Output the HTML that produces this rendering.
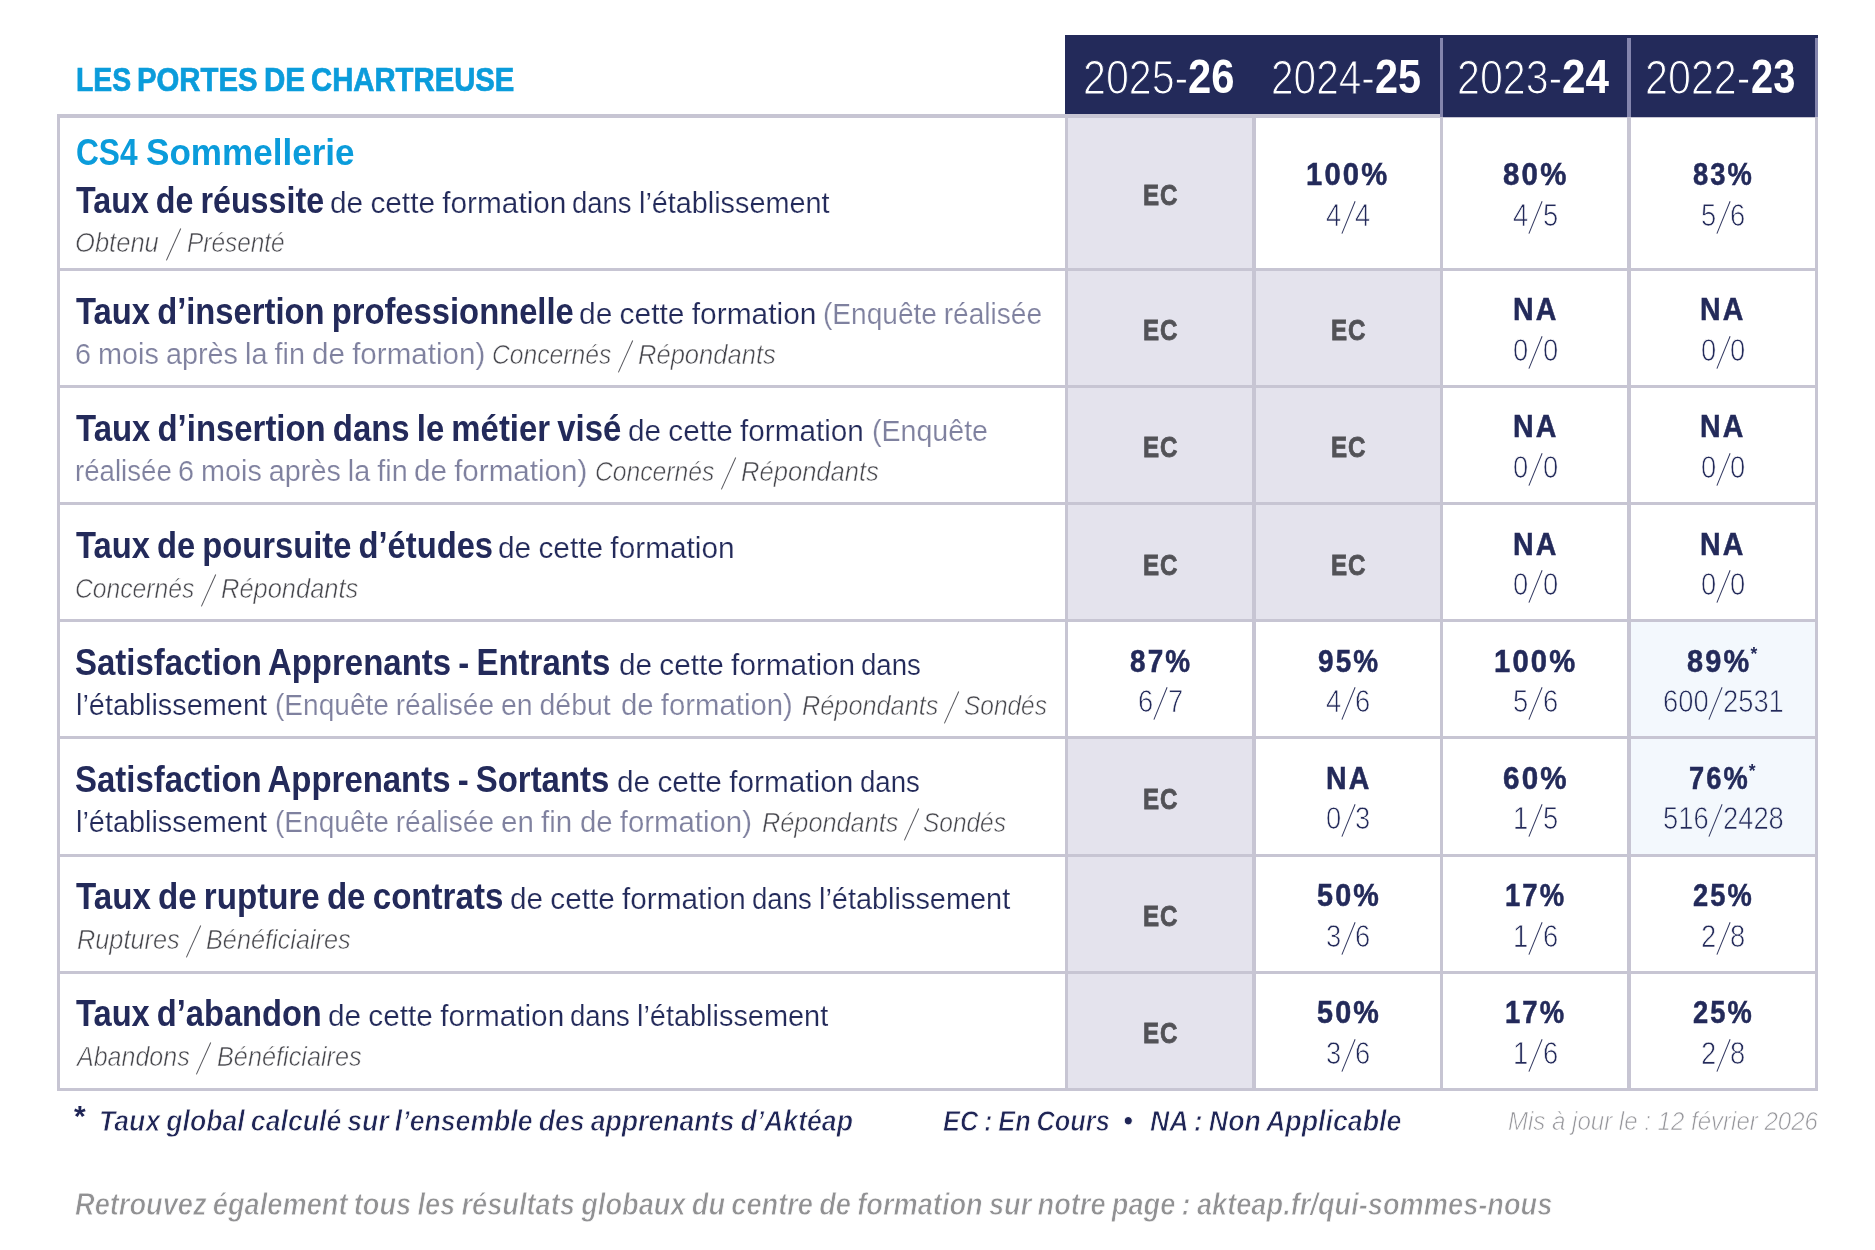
<!DOCTYPE html>
<html lang="fr"><head><meta charset="utf-8"><title>Les Portes de Chartreuse - CS4 Sommellerie</title>
<style>
html,body{margin:0;padding:0;background:#fff}
body{width:1875px;height:1250px;position:relative;overflow:hidden;font-family:"Liberation Sans",sans-serif}
#page{position:absolute;left:0;top:0;width:1875px;height:1250px;background:#fff;will-change:transform}
.t{position:absolute;white-space:pre;line-height:1;transform-origin:0 0;display:block}
.bx{position:absolute}
.h{color:transparent;-webkit-text-stroke:0 transparent}
.sl2{position:absolute;width:1.3px;height:35.3px;background:#55555b;transform:rotate(24.2deg);transform-origin:50% 50%}
.sl{position:absolute;width:1.45px;height:35px;background:#30365f;transform:rotate(22.2deg);transform-origin:50% 50%}

.title{font-weight:bold;font-style:normal;font-size:33.5px;color:#0b9cdb;-webkit-text-stroke:0.7px #0b9cdb;}
.cs4{font-weight:bold;font-style:normal;font-size:36px;color:#0b9cdb;word-spacing:-2.0px;}
.B{font-weight:bold;font-style:normal;font-size:36px;color:#232a5a;word-spacing:-2.2px;}
.R{font-weight:normal;font-style:normal;font-size:30px;color:#232a5a;-webkit-text-stroke:0.2px #fff;word-spacing:-1.0px;}
.G{font-weight:normal;font-style:normal;font-size:30px;color:#7f819f;-webkit-text-stroke:0.2px #fff;word-spacing:-1.0px;}
.I{font-weight:normal;font-style:italic;font-size:28.5px;color:#47474d;-webkit-text-stroke:0.6px #fff;}
.EC{font-weight:bold;font-style:normal;font-size:29.5px;color:#525257;-webkit-text-stroke:0.8px #525257;letter-spacing:1.0px;}
.V{font-weight:bold;font-style:normal;font-size:30.5px;color:#232a5a;-webkit-text-stroke:0.5px #232a5a;letter-spacing:2.3px;}
.F{font-weight:normal;font-style:normal;font-size:31px;color:#232a5a;-webkit-text-stroke:0.75px #fff;}
.FB{font-weight:normal;font-style:normal;font-size:31px;color:#232a5a;-webkit-text-stroke:0.75px #f3f8fd;}
.ast{font-weight:bold;font-style:normal;font-size:17.5px;color:#232a5a;}
.HL{font-weight:normal;font-style:normal;font-size:49px;color:#fff;-webkit-text-stroke:1.2px #232a5a;}
.HB{font-weight:bold;font-style:normal;font-size:48px;color:#fff;}
.FN{font-weight:bold;font-style:italic;font-size:30px;color:#1f2556;-webkit-text-stroke:0.85px #fff;word-spacing:-1.5px;}
.FNA{font-weight:bold;font-style:normal;font-size:30px;color:#1f2556;}
.FN2{font-weight:bold;font-style:italic;font-size:30.5px;color:#919193;-webkit-text-stroke:0.85px #fff;word-spacing:-1.5px;}
.MAJ{font-weight:normal;font-style:italic;font-size:26px;color:#96969b;-webkit-text-stroke:0.7px #fff;}
</style></head><body><div id="page">
<div class="bx" style="left:1066.5px;top:116.0px;width:187.5px;height:153.5px;background:#e4e3ed;"></div>
<div class="bx" style="left:1066.5px;top:269.4px;width:187.5px;height:116.9px;background:#e4e3ed;"></div>
<div class="bx" style="left:1254.0px;top:269.4px;width:187.5px;height:116.9px;background:#e4e3ed;"></div>
<div class="bx" style="left:1066.5px;top:386.4px;width:187.5px;height:117.1px;background:#e4e3ed;"></div>
<div class="bx" style="left:1254.0px;top:386.4px;width:187.5px;height:117.1px;background:#e4e3ed;"></div>
<div class="bx" style="left:1066.5px;top:503.5px;width:187.5px;height:117.1px;background:#e4e3ed;"></div>
<div class="bx" style="left:1254.0px;top:503.5px;width:187.5px;height:117.1px;background:#e4e3ed;"></div>
<div class="bx" style="left:1066.5px;top:737.8px;width:187.5px;height:117.2px;background:#e4e3ed;"></div>
<div class="bx" style="left:1066.5px;top:855.0px;width:187.5px;height:117.2px;background:#e4e3ed;"></div>
<div class="bx" style="left:1066.5px;top:972.2px;width:187.5px;height:117.2px;background:#e4e3ed;"></div>
<div class="bx" style="left:1629.1px;top:620.6px;width:187.5px;height:117.2px;background:#f3f8fd;"></div>
<div class="bx" style="left:1629.1px;top:737.8px;width:187.5px;height:117.2px;background:#f3f8fd;"></div>
<div class="bx" style="left:56.5px;top:114.2px;width:1761.8px;height:3.4px;background:#c7c5d3;"></div>
<div class="bx" style="left:56.5px;top:267.9px;width:1761.8px;height:3.0px;background:#c7c5d3;"></div>
<div class="bx" style="left:56.5px;top:384.9px;width:1761.8px;height:3.0px;background:#c7c5d3;"></div>
<div class="bx" style="left:56.5px;top:502.0px;width:1761.8px;height:3.0px;background:#c7c5d3;"></div>
<div class="bx" style="left:56.5px;top:619.1px;width:1761.8px;height:3.0px;background:#c7c5d3;"></div>
<div class="bx" style="left:56.5px;top:736.3px;width:1761.8px;height:3.0px;background:#c7c5d3;"></div>
<div class="bx" style="left:56.5px;top:853.5px;width:1761.8px;height:3.0px;background:#c7c5d3;"></div>
<div class="bx" style="left:56.5px;top:970.7px;width:1761.8px;height:3.0px;background:#c7c5d3;"></div>
<div class="bx" style="left:56.5px;top:1087.7px;width:1761.8px;height:3.4px;background:#c7c5d3;"></div>
<div class="bx" style="left:56.5px;top:114.2px;width:3.4px;height:976.9px;background:#c7c5d3;"></div>
<div class="bx" style="left:1064.8px;top:114.2px;width:3.4px;height:976.9px;background:#c7c5d3;"></div>
<div class="bx" style="left:1252.3px;top:114.2px;width:3.4px;height:976.9px;background:#c7c5d3;"></div>
<div class="bx" style="left:1439.9px;top:114.2px;width:3.4px;height:976.9px;background:#c7c5d3;"></div>
<div class="bx" style="left:1627.4px;top:114.2px;width:3.4px;height:976.9px;background:#c7c5d3;"></div>
<div class="bx" style="left:1814.9px;top:114.2px;width:3.4px;height:976.9px;background:#c7c5d3;"></div>
<div class="bx" style="left:1065.0px;top:34.6px;width:376.5px;height:79.6px;background:#232a5a;"></div>
<div class="bx" style="left:1441.5px;top:34.6px;width:376.3px;height:82.3px;background:#232a5a;"></div>
<div class="bx" style="left:1439.9px;top:38.0px;width:3.4px;height:78.9px;background:#8485ad;"></div>
<div class="bx" style="left:1627.4px;top:38.0px;width:3.4px;height:78.9px;background:#8485ad;"></div>
<div class="bx" style="left:1814.9px;top:38.0px;width:3.4px;height:78.9px;background:#8485ad;"></div>
<span class="t title" style="left:75.53px;top:63px;transform:scaleX(0.8476)">LES</span>
<span class="t title" style="left:136.57px;top:63px;transform:scaleX(0.8748)">PORTES</span>
<span class="t title" style="left:263.85px;top:63px;transform:scaleX(0.8815)">DE</span>
<span class="t title" style="left:311.48px;top:63px;transform:scaleX(0.8742)">CHARTREUSE</span>
<span class="t cs4" style="left:76.01px;top:135px;transform:scaleX(0.8794)">CS4</span>
<span class="t cs4" style="left:146.25px;top:135px;transform:scaleX(0.9744)">Sommellerie</span>
<span class="t B" style="left:75.50px;top:183px;transform:scaleX(0.8955)">Taux de réussite</span>
<span class="t R" style="left:329.57px;top:188px;transform:scaleX(0.9927)">de cette formation</span>
<span class="t R" style="left:572.04px;top:188px;transform:scaleX(0.9164)">dans</span>
<span class="t R" style="left:639.10px;top:188px;transform:scaleX(0.9595)">l’établissement</span>
<span class="t I" style="left:75.40px;top:228px;transform:scaleX(0.8967)">Obtenu <span class="h">/</span></span>
<span class="t I" style="left:187.32px;top:228px;transform:scaleX(0.8564)">Présenté</span>
<span class="t B" style="left:75.50px;top:294px;transform:scaleX(0.9100)">Taux d’insertion professionnelle</span>
<span class="t R" style="left:578.77px;top:299px;transform:scaleX(0.9970)">de cette formation</span>
<span class="t G" style="left:823.28px;top:299px;transform:scaleX(0.9355)">(Enquête réalisée</span>
<span class="t G" style="left:75.05px;top:339px;transform:scaleX(0.9604)">6 mois après la fin</span>
<span class="t G" style="left:311.68px;top:339px;transform:scaleX(0.9858)">de formation)</span>
<span class="t I" style="left:492.34px;top:340px;transform:scaleX(0.8659)">Concernés <span class="h">/</span></span>
<span class="t I" style="left:638.20px;top:340px;transform:scaleX(0.8965)">Répondants</span>
<span class="t B" style="left:75.50px;top:411px;transform:scaleX(0.9141)">Taux d’insertion dans le métier visé</span>
<span class="t R" style="left:628.37px;top:416px;transform:scaleX(0.9906)">de cette formation</span>
<span class="t G" style="left:872.16px;top:416px;transform:scaleX(0.9527)">(Enquête</span>
<span class="t G" style="left:74.67px;top:456px;transform:scaleX(0.9209)">réalisée</span>
<span class="t G" style="left:178.15px;top:456px;transform:scaleX(0.9592)">6 mois après la fin</span>
<span class="t G" style="left:414.48px;top:456px;transform:scaleX(0.9864)">de formation)</span>
<span class="t I" style="left:595.04px;top:457px;transform:scaleX(0.8659)">Concernés <span class="h">/</span></span>
<span class="t I" style="left:740.90px;top:457px;transform:scaleX(0.8972)">Répondants</span>
<span class="t B" style="left:75.50px;top:528px;transform:scaleX(0.9090)">Taux de poursuite d’études</span>
<span class="t R" style="left:498.27px;top:533px;transform:scaleX(0.9936)">de cette formation</span>
<span class="t I" style="left:75.04px;top:574px;transform:scaleX(0.8659)">Concernés <span class="h">/</span></span>
<span class="t I" style="left:220.90px;top:574px;transform:scaleX(0.8933)">Répondants</span>
<span class="t B" style="left:75.48px;top:645px;transform:scaleX(0.9163)">Satisfaction Apprenants - Entrants</span>
<span class="t R" style="left:619.07px;top:650px;transform:scaleX(0.9915)">de cette formation</span>
<span class="t R" style="left:861.14px;top:650px;transform:scaleX(0.9212)">dans</span>
<span class="t R" style="left:75.70px;top:690px;transform:scaleX(0.9626)">l’établissement</span>
<span class="t G" style="left:275.38px;top:690px;transform:scaleX(0.9355)">(Enquête réalisée</span>
<span class="t G" style="left:501.01px;top:690px;transform:scaleX(0.9474)">en début</span>
<span class="t G" style="left:620.58px;top:690px;transform:scaleX(0.9777)">de formation)</span>
<span class="t I" style="left:802.30px;top:691px;transform:scaleX(0.8874)">Répondants <span class="h">/</span></span>
<span class="t I" style="left:963.82px;top:691px;transform:scaleX(0.8573)">Sondés</span>
<span class="t B" style="left:75.49px;top:762px;transform:scaleX(0.9147)">Satisfaction Apprenants - Sortants</span>
<span class="t R" style="left:617.37px;top:767px;transform:scaleX(0.9923)">de cette formation</span>
<span class="t R" style="left:859.94px;top:767px;transform:scaleX(0.9212)">dans</span>
<span class="t R" style="left:75.70px;top:807px;transform:scaleX(0.9626)">l’établissement</span>
<span class="t G" style="left:275.38px;top:807px;transform:scaleX(0.9355)">(Enquête réalisée</span>
<span class="t G" style="left:500.98px;top:807px;transform:scaleX(0.9833)">en fin</span>
<span class="t G" style="left:580.18px;top:807px;transform:scaleX(0.9783)">de formation)</span>
<span class="t I" style="left:761.80px;top:808px;transform:scaleX(0.8874)">Répondants <span class="h">/</span></span>
<span class="t I" style="left:923.32px;top:808px;transform:scaleX(0.8573)">Sondés</span>
<span class="t B" style="left:75.50px;top:879px;transform:scaleX(0.9198)">Taux de rupture de contrats</span>
<span class="t R" style="left:509.77px;top:884px;transform:scaleX(0.9902)">de cette formation</span>
<span class="t R" style="left:751.74px;top:884px;transform:scaleX(0.9196)">dans</span>
<span class="t R" style="left:818.99px;top:884px;transform:scaleX(0.9636)">l’établissement</span>
<span class="t I" style="left:76.60px;top:925px;transform:scaleX(0.8880)">Ruptures <span class="h">/</span></span>
<span class="t I" style="left:206.11px;top:925px;transform:scaleX(0.8868)">Bénéficiaires</span>
<span class="t B" style="left:75.50px;top:996px;transform:scaleX(0.9065)">Taux d’abandon</span>
<span class="t R" style="left:328.07px;top:1001px;transform:scaleX(0.9919)">de cette formation</span>
<span class="t R" style="left:570.14px;top:1001px;transform:scaleX(0.9180)">dans</span>
<span class="t R" style="left:637.29px;top:1001px;transform:scaleX(0.9636)">l’établissement</span>
<span class="t I" style="left:77.16px;top:1042px;transform:scaleX(0.8782)">Abandons <span class="h">/</span></span>
<span class="t I" style="left:216.71px;top:1042px;transform:scaleX(0.8868)">Bénéficiaires</span>
<span class="t FNA" style="left:74.40px;top:1101px;transform:scaleX(0.9984)">*</span>
<span class="t FN" style="left:98.63px;top:1106px;transform:scaleX(0.8884)">Taux global calculé sur l’ensemble des apprenants d’Aktéap</span>
<span class="t FN" style="left:942.80px;top:1106px;transform:scaleX(0.8461)">EC : En Cours</span>
<span class="t FN" style="left:1122.72px;top:1106px;transform:scaleX(0.9387)">•</span>
<span class="t FN" style="left:1150.18px;top:1106px;transform:scaleX(0.8927)">NA : Non Applicable</span>
<span class="t MAJ" style="left:1507.72px;top:1108px;transform:scaleX(0.9244)">Mis à jour le : 12 février 2026</span>
<span class="t FN2" style="left:74.87px;top:1189px;transform:scaleX(0.8926)">Retrouvez également tous les résultats globaux du centre de formation sur notre page : akteap.fr/qui-sommes-nous</span>
<span class="t HL" style="left:1082.87px;top:53px;transform:scaleX(0.8404)">2025-</span>
<span class="t HB" style="left:1187.70px;top:53px;transform:scaleX(0.8699)">26</span>
<span class="t HL" style="left:1271.10px;top:53px;transform:scaleX(0.8288)">2024-</span>
<span class="t HB" style="left:1374.71px;top:53px;transform:scaleX(0.8620)">25</span>
<span class="t HL" style="left:1457.27px;top:53px;transform:scaleX(0.8395)">2023-</span>
<span class="t HB" style="left:1562.08px;top:53px;transform:scaleX(0.8794)">24</span>
<span class="t HL" style="left:1645.47px;top:53px;transform:scaleX(0.8420)">2022-</span>
<span class="t HB" style="left:1750.75px;top:53px;transform:scaleX(0.8305)">23</span>
<span class="t EC" style="left:1143.49px;top:180px;transform:scaleX(0.8187)">EC</span>
<span class="t V" style="left:1306.48px;top:159px;transform:scaleX(0.9568)">100%</span>
<span class="t V" style="left:1503.28px;top:159px;transform:scaleX(0.9648)">80%</span>
<span class="t V" style="left:1692.95px;top:159px;transform:scaleX(0.8964)">83%</span>
<span class="t EC" style="left:1143.49px;top:315px;transform:scaleX(0.8187)">EC</span>
<span class="t EC" style="left:1330.89px;top:315px;transform:scaleX(0.8187)">EC</span>
<span class="t V" style="left:1512.92px;top:294px;transform:scaleX(0.9347)">NA</span>
<span class="t V" style="left:1700.32px;top:294px;transform:scaleX(0.9347)">NA</span>
<span class="t EC" style="left:1143.49px;top:432px;transform:scaleX(0.8187)">EC</span>
<span class="t EC" style="left:1330.89px;top:432px;transform:scaleX(0.8187)">EC</span>
<span class="t V" style="left:1512.92px;top:411px;transform:scaleX(0.9347)">NA</span>
<span class="t V" style="left:1700.32px;top:411px;transform:scaleX(0.9347)">NA</span>
<span class="t EC" style="left:1143.49px;top:550px;transform:scaleX(0.8187)">EC</span>
<span class="t EC" style="left:1330.89px;top:550px;transform:scaleX(0.8187)">EC</span>
<span class="t V" style="left:1512.92px;top:529px;transform:scaleX(0.9347)">NA</span>
<span class="t V" style="left:1700.32px;top:529px;transform:scaleX(0.9347)">NA</span>
<span class="t V" style="left:1130.13px;top:646px;transform:scaleX(0.9150)">87%</span>
<span class="t V" style="left:1317.53px;top:646px;transform:scaleX(0.9150)">95%</span>
<span class="t V" style="left:1493.88px;top:646px;transform:scaleX(0.9568)">100%</span>
<span class="t V" style="left:1687.30px;top:646px;transform:scaleX(0.9462)">89%</span>
<span class="t ast" style="left:1750.40px;top:646px;transform:scaleX(1.0000)">*</span>
<span class="t EC" style="left:1143.49px;top:784px;transform:scaleX(0.8187)">EC</span>
<span class="t V" style="left:1325.52px;top:763px;transform:scaleX(0.9347)">NA</span>
<span class="t V" style="left:1503.13px;top:763px;transform:scaleX(0.9695)">60%</span>
<span class="t V" style="left:1689.05px;top:763px;transform:scaleX(0.8933)">76%</span>
<span class="t ast" style="left:1748.70px;top:763px;transform:scaleX(1.0000)">*</span>
<span class="t EC" style="left:1143.49px;top:901px;transform:scaleX(0.8187)">EC</span>
<span class="t V" style="left:1316.85px;top:880px;transform:scaleX(0.9423)">50%</span>
<span class="t V" style="left:1504.98px;top:880px;transform:scaleX(0.9004)">17%</span>
<span class="t V" style="left:1693.00px;top:880px;transform:scaleX(0.8948)">25%</span>
<span class="t EC" style="left:1143.49px;top:1018px;transform:scaleX(0.8187)">EC</span>
<span class="t V" style="left:1316.85px;top:997px;transform:scaleX(0.9423)">50%</span>
<span class="t V" style="left:1504.98px;top:997px;transform:scaleX(0.9004)">17%</span>
<span class="t V" style="left:1693.00px;top:997px;transform:scaleX(0.8948)">25%</span>
<i class="sl2" style="left:173.35px;top:226.55px"></i>
<i class="sl2" style="left:625.35px;top:338.55px"></i>
<i class="sl2" style="left:728.05px;top:455.55px"></i>
<i class="sl2" style="left:208.05px;top:572.55px"></i>
<i class="sl2" style="left:951.35px;top:689.55px"></i>
<i class="sl2" style="left:910.85px;top:806.55px"></i>
<i class="sl2" style="left:192.85px;top:923.55px"></i>
<i class="sl2" style="left:203.45px;top:1040.55px"></i>
<span class="t F" style="left:1325.80px;top:200px;transform:scaleX(0.8816)">4<span class="h">/</span></span>
<span class="t F" style="left:1355.40px;top:200px;transform:scaleX(0.8816)">4</span>
<i class="sl" style="left:1347.88px;top:200.10px"></i>
<span class="t F" style="left:1513.20px;top:200px;transform:scaleX(0.8816)">4<span class="h">/</span></span>
<span class="t F" style="left:1542.80px;top:200px;transform:scaleX(0.8816)">5</span>
<i class="sl" style="left:1535.28px;top:200.10px"></i>
<span class="t F" style="left:1700.60px;top:200px;transform:scaleX(0.8816)">5<span class="h">/</span></span>
<span class="t F" style="left:1730.20px;top:200px;transform:scaleX(0.8816)">6</span>
<i class="sl" style="left:1722.68px;top:200.10px"></i>
<span class="t F" style="left:1513.20px;top:335px;transform:scaleX(0.8816)">0<span class="h">/</span></span>
<span class="t F" style="left:1542.80px;top:335px;transform:scaleX(0.8816)">0</span>
<i class="sl" style="left:1535.28px;top:335.10px"></i>
<span class="t F" style="left:1700.60px;top:335px;transform:scaleX(0.8816)">0<span class="h">/</span></span>
<span class="t F" style="left:1730.20px;top:335px;transform:scaleX(0.8816)">0</span>
<i class="sl" style="left:1722.68px;top:335.10px"></i>
<span class="t F" style="left:1513.20px;top:452px;transform:scaleX(0.8816)">0<span class="h">/</span></span>
<span class="t F" style="left:1542.80px;top:452px;transform:scaleX(0.8816)">0</span>
<i class="sl" style="left:1535.28px;top:452.10px"></i>
<span class="t F" style="left:1700.60px;top:452px;transform:scaleX(0.8816)">0<span class="h">/</span></span>
<span class="t F" style="left:1730.20px;top:452px;transform:scaleX(0.8816)">0</span>
<i class="sl" style="left:1722.68px;top:452.10px"></i>
<span class="t F" style="left:1513.20px;top:569px;transform:scaleX(0.8816)">0<span class="h">/</span></span>
<span class="t F" style="left:1542.80px;top:569px;transform:scaleX(0.8816)">0</span>
<i class="sl" style="left:1535.28px;top:569.10px"></i>
<span class="t F" style="left:1700.60px;top:569px;transform:scaleX(0.8816)">0<span class="h">/</span></span>
<span class="t F" style="left:1730.20px;top:569px;transform:scaleX(0.8816)">0</span>
<i class="sl" style="left:1722.68px;top:569.10px"></i>
<span class="t F" style="left:1138.40px;top:686px;transform:scaleX(0.8816)">6<span class="h">/</span></span>
<span class="t F" style="left:1168.00px;top:686px;transform:scaleX(0.8816)">7</span>
<i class="sl" style="left:1160.48px;top:686.10px"></i>
<span class="t F" style="left:1325.80px;top:686px;transform:scaleX(0.8816)">4<span class="h">/</span></span>
<span class="t F" style="left:1355.40px;top:686px;transform:scaleX(0.8816)">6</span>
<i class="sl" style="left:1347.88px;top:686.10px"></i>
<span class="t F" style="left:1513.20px;top:686px;transform:scaleX(0.8816)">5<span class="h">/</span></span>
<span class="t F" style="left:1542.80px;top:686px;transform:scaleX(0.8816)">6</span>
<i class="sl" style="left:1535.28px;top:686.10px"></i>
<span class="t FB" style="left:1662.60px;top:686px;transform:scaleX(0.8816)">600<span class="h">/</span></span>
<span class="t FB" style="left:1722.60px;top:686px;transform:scaleX(0.8816)">2531</span>
<i class="sl" style="left:1715.08px;top:686.10px"></i>
<span class="t F" style="left:1325.80px;top:803px;transform:scaleX(0.8816)">0<span class="h">/</span></span>
<span class="t F" style="left:1355.40px;top:803px;transform:scaleX(0.8816)">3</span>
<i class="sl" style="left:1347.88px;top:803.10px"></i>
<span class="t F" style="left:1513.20px;top:803px;transform:scaleX(0.8816)">1<span class="h">/</span></span>
<span class="t F" style="left:1542.80px;top:803px;transform:scaleX(0.8816)">5</span>
<i class="sl" style="left:1535.28px;top:803.10px"></i>
<span class="t FB" style="left:1662.60px;top:803px;transform:scaleX(0.8816)">516<span class="h">/</span></span>
<span class="t FB" style="left:1722.60px;top:803px;transform:scaleX(0.8816)">2428</span>
<i class="sl" style="left:1715.08px;top:803.10px"></i>
<span class="t F" style="left:1325.80px;top:921px;transform:scaleX(0.8816)">3<span class="h">/</span></span>
<span class="t F" style="left:1355.40px;top:921px;transform:scaleX(0.8816)">6</span>
<i class="sl" style="left:1347.88px;top:921.10px"></i>
<span class="t F" style="left:1513.20px;top:921px;transform:scaleX(0.8816)">1<span class="h">/</span></span>
<span class="t F" style="left:1542.80px;top:921px;transform:scaleX(0.8816)">6</span>
<i class="sl" style="left:1535.28px;top:921.10px"></i>
<span class="t F" style="left:1700.60px;top:921px;transform:scaleX(0.8816)">2<span class="h">/</span></span>
<span class="t F" style="left:1730.20px;top:921px;transform:scaleX(0.8816)">8</span>
<i class="sl" style="left:1722.68px;top:921.10px"></i>
<span class="t F" style="left:1325.80px;top:1038px;transform:scaleX(0.8816)">3<span class="h">/</span></span>
<span class="t F" style="left:1355.40px;top:1038px;transform:scaleX(0.8816)">6</span>
<i class="sl" style="left:1347.88px;top:1038.10px"></i>
<span class="t F" style="left:1513.20px;top:1038px;transform:scaleX(0.8816)">1<span class="h">/</span></span>
<span class="t F" style="left:1542.80px;top:1038px;transform:scaleX(0.8816)">6</span>
<i class="sl" style="left:1535.28px;top:1038.10px"></i>
<span class="t F" style="left:1700.60px;top:1038px;transform:scaleX(0.8816)">2<span class="h">/</span></span>
<span class="t F" style="left:1730.20px;top:1038px;transform:scaleX(0.8816)">8</span>
<i class="sl" style="left:1722.68px;top:1038.10px"></i>
</div></body></html>
